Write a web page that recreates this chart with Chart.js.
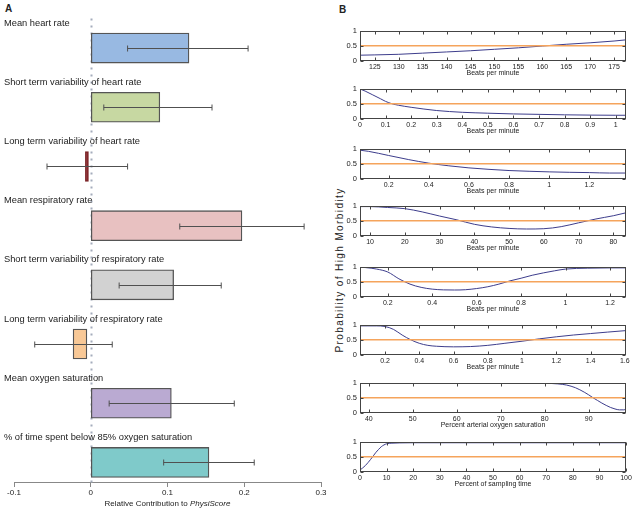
<!DOCTYPE html>
<html><head><meta charset="utf-8">
<script src="https://cdn.jsdelivr.net/npm/chart.js@4.4.1/dist/chart.umd.min.js"></script>
<style>
body{margin:0;background:#fff;width:635px;height:512px;position:relative;overflow:hidden;font-family:"Liberation Sans",Arial,sans-serif;color:#222}
canvas{position:absolute}
.pl{position:absolute;font-weight:bold;font-size:10px}
#ylab{position:absolute;left:339px;top:270px;transform:translate(-50%,-50%) rotate(-90deg);white-space:nowrap;font-size:10px;letter-spacing:1.4px}
</style></head><body>
<div class="pl" style="left:5px;top:3px">A</div>
<div class="pl" style="left:339px;top:4px">B</div>
<div id="ylab">Probability of High Morbidity</div>
<canvas id="cA" width="330" height="512" style="left:0;top:0"></canvas>
<script>
// ---------- Panel A data ----------
const categories = ["Mean heart rate","Short term variability of heart rate","Long term variability of heart rate","Mean respiratory rate","Short term variability of respiratory rate","Long term variability of respiratory rate","Mean oxygen saturation","% of time spent below 85% oxygen saturation"];
const barStart = [0, 0, -0.003, 0, 0, -0.005, 0, 0];
const barEnd   = [0.128, 0.090, -0.007, 0.197, 0.108, -0.023, 0.105, 0.154];
const errLow   = [0.048, 0.017, -0.057, 0.116, 0.037, -0.073, 0.024, 0.095];
const errHigh  = [0.205, 0.158, 0.048, 0.278, 0.170, 0.028, 0.187, 0.213];
const xTicksA  = [-0.1, 0, 0.1, 0.2, 0.3];
const barColors = ['#98b9e2','#c7d8a2','#8c2a2e','#e8c1c1','#d2d2d2','#f8c896','#baaad2','#7fcaca'];
const barBorders = ['#555','#555','#7a2428','#555','#555','#555','#555','#555'];

// ---------- Panel B data ----------
const threshold = 0.5;
const s1X = [121.9,125,130,135,140,145,150,155,160,165,170,175,177.5];
const s1Y = [0.18,0.19,0.21,0.25,0.29,0.33,0.38,0.43,0.49,0.55,0.60,0.66,0.70];
const s2X = [0,0.02,0.05,0.08,0.1,0.125,0.15,0.2,0.25,0.3,0.4,0.5,0.6,0.7,0.8,0.9,1.0,1.04];
const s2Y = [1.0,0.93,0.80,0.67,0.58,0.50,0.45,0.38,0.32,0.27,0.21,0.18,0.155,0.14,0.125,0.115,0.11,0.11];
const s3X = [0.057,0.1,0.2,0.3,0.4,0.5,0.6,0.7,0.8,0.9,1.0,1.1,1.2,1.3,1.383];
const s3Y = [0.96,0.92,0.78,0.64,0.52,0.43,0.36,0.31,0.27,0.245,0.225,0.21,0.2,0.185,0.185];
const s4X = [7.1,10,15,20,25,30,35,40,45,50,55,60,65,70,75,80,83.65];
const s4Y = [0.98,0.98,0.95,0.91,0.80,0.66,0.53,0.38,0.29,0.24,0.22,0.23,0.30,0.43,0.56,0.67,0.77];
const s5X = [0.075,0.1,0.15,0.2,0.25,0.3,0.35,0.4,0.45,0.5,0.55,0.6,0.65,0.7,0.75,0.8,0.85,0.9,0.95,1.0,1.1,1.2,1.272];
const s5Y = [0.99,0.98,0.93,0.83,0.60,0.42,0.31,0.25,0.225,0.22,0.23,0.27,0.33,0.42,0.53,0.62,0.72,0.80,0.87,0.93,0.96,0.97,0.97];
const s6X = [0.054,0.1,0.15,0.2,0.25,0.3,0.35,0.4,0.45,0.5,0.6,0.7,0.8,0.9,1.0,1.1,1.2,1.3,1.4,1.5,1.607];
const s6Y = [0.97,0.97,0.97,0.95,0.85,0.66,0.50,0.38,0.31,0.28,0.26,0.27,0.31,0.38,0.45,0.53,0.60,0.66,0.71,0.76,0.81];
const s7X = [38,45,50,60,70,80,83,85,87,89,90,91,92,93,94,95,96,97,98,98.5];
const s7Y = [1,1,1,1,1,0.99,0.97,0.93,0.84,0.69,0.60,0.50,0.41,0.32,0.24,0.17,0.12,0.09,0.09,0.11];
const s8X = [0,1,2,3,4,5,6,7,8,9,10,12,15,20,30,40,50,60,70,80,90,100];
const s8Y = [0.05,0.12,0.20,0.30,0.41,0.53,0.65,0.75,0.84,0.90,0.94,0.96,0.97,0.975,0.975,0.975,0.975,0.975,0.975,0.975,0.975,0.975];
const bLabels = ['Beats per minute','Beats per minute','Beats per minute','Beats per minute','Beats per minute','Beats per minute','Percent arterial oxygen saturation','Percent of sampling time'];

Chart.defaults.font.family = '"Liberation Sans", Arial, sans-serif';
Chart.defaults.color = '#222';
Chart.defaults.animation = false;

const FONT = '"Liberation Sans", Arial, sans-serif';
const axisAt = 7.346; // category position where the x axis sits
const fmt = v => String(Math.round(v*1e6)/1e6);

const zeroLine = {id:'zeroLine', beforeDatasetsDraw(c){
  const {ctx, chartArea:a, scales:{x,y}} = c;
  const x0 = Math.round(x.getPixelForValue(0)) + 0.5;
  ctx.save(); ctx.strokeStyle='#a4acbc'; ctx.lineWidth=2; ctx.setLineDash([2,5]);
  ctx.beginPath(); ctx.moveTo(x0, a.top); ctx.lineTo(x0, y.getPixelForValue(axisAt)); ctx.stroke(); ctx.restore();
}};
const errorBars = {id:'errorBars', afterDatasetsDraw(c){
  const {ctx, scales:{x,y}} = c;
  ctx.save(); ctx.strokeStyle='#505050'; ctx.lineWidth=1;
  categories.forEach((_,i)=>{
    const py = Math.round(y.getPixelForValue(i)) + 0.5;
    const x1 = x.getPixelForValue(errLow[i]), x2 = x.getPixelForValue(errHigh[i]);
    ctx.beginPath(); ctx.moveTo(x1,py); ctx.lineTo(x2,py);
    ctx.moveTo(x1,py-3); ctx.lineTo(x1,py+3); ctx.moveTo(x2,py-3); ctx.lineTo(x2,py+3); ctx.stroke();
  });
  ctx.restore();
}};
const catLabels = {id:'catLabels', afterDraw(c){
  const {ctx, scales:{y}} = c;
  ctx.save(); ctx.fillStyle='#222'; ctx.font='9.3px '+FONT; ctx.textBaseline='middle'; ctx.textAlign='left';
  categories.forEach((t,i)=>ctx.fillText(t, 4, y.getPixelForValue(i)-25));
  ctx.restore();
}};
const axisTitleA = {id:'axisTitleA', afterDraw(c){
  const {ctx, scales:{x,y}} = c;
  const cy = y.getPixelForValue(axisAt) + 21, cx = (x.left + x.right)/2;
  const p1 = 'Relative Contribution to ', p2 = 'PhysiScore';
  ctx.save(); ctx.fillStyle='#222'; ctx.textBaseline='middle'; ctx.textAlign='left';
  ctx.font = '8px '+FONT; const w1 = ctx.measureText(p1).width;
  ctx.font = 'italic 8px '+FONT; const w2 = ctx.measureText(p2).width;
  const sx = cx - (w1+w2)/2;
  ctx.font = '8px '+FONT; ctx.fillText(p1, sx, cy);
  ctx.font = 'italic 8px '+FONT; ctx.fillText(p2, sx+w1, cy);
  ctx.restore();
}};

new Chart(document.getElementById('cA'), {
  type:'bar',
  data:{labels:categories, datasets:[{
    data: barStart.map((s,i)=>[s, barEnd[i]]),
    backgroundColor: barColors, borderColor: barBorders, borderWidth: 1.3,
    borderSkipped: false, barThickness: 30
  }]},
  options:{
    indexAxis:'y', responsive:false, animation:false,
    layout:{padding:{left:14, right:9, top:18.5, bottom:20}},
    plugins:{legend:{display:false}, tooltip:{enabled:false}},
    scales:{
      y:{type:'category', display:false, offset:true},
      x:{type:'linear', min:xTicksA[0], max:xTicksA[xTicksA.length-1], position:{y:axisAt},
         afterBuildTicks(s){ s.ticks = xTicksA.map(v=>({value:v})); },
         ticks:{font:{size:8}, color:'#222', padding:1, callback:fmt},
         grid:{drawOnChartArea:false, color:'#888', tickLength:4},
         border:{color:'#888'},
         afterFit(s){ s.paddingLeft=0; s.paddingRight=0; }}
    }
  },
  plugins:[zeroLine, errorBars, catLabels, axisTitleA]
});

// ---------- Panel B ----------
const boxPlugin = {id:'box', afterDraw(c){
  const {ctx, chartArea:a, scales:{x,y}} = c;
  ctx.save(); ctx.strokeStyle='#444'; ctx.lineWidth=1;
  const L=Math.round(a.left)+0.5, R=Math.round(a.right)-0.5, T=Math.round(a.top)+0.5, B=Math.round(a.bottom)-0.5;
  ctx.strokeRect(L, T, R-L, B-T);
  ctx.beginPath();
  x.ticks.forEach(t=>{ const px=Math.round(x.getPixelForValue(t.value))+0.5; ctx.moveTo(px,T); ctx.lineTo(px,T+3); ctx.moveTo(px,B); ctx.lineTo(px,B-3); });
  y.ticks.forEach(t=>{ const py=Math.round(y.getPixelForValue(t.value))+0.5; ctx.moveTo(L,py); ctx.lineTo(L+3,py); ctx.moveTo(R,py); ctx.lineTo(R-3,py); });
  ctx.stroke(); ctx.restore();
}};

const panels = [
  {x:s1X, y:s1Y, min:121.9, max:177.5, step:5,   top:30.5},
  {x:s2X, y:s2Y, min:0,     max:1.04,  step:0.1, top:88.5},
  {x:s3X, y:s3Y, min:0.057, max:1.383, step:0.2, top:148.5},
  {x:s4X, y:s4Y, min:7.1,   max:83.65, step:10,  top:205.5},
  {x:s5X, y:s5Y, min:0.075, max:1.272, step:0.2, top:267},
  {x:s6X, y:s6Y, min:0.054, max:1.607, step:0.2, top:324.5},
  {x:s7X, y:s7Y, min:38,    max:98.5,  step:10,  top:383},
  {x:s8X, y:s8Y, min:0,     max:100,   step:10,  top:442}
];
panels.forEach((p,k)=>{
  const cv = document.createElement('canvas');
  cv.width = 305; cv.height = 52;
  cv.style.left = '330px'; cv.style.top = (p.top-6)+'px';
  document.body.appendChild(cv);
  new Chart(cv, {
    type:'line',
    data:{datasets:[
      {data:[{x:p.min,y:threshold},{x:p.max,y:threshold}], borderColor:'#f5a45c', borderWidth:1.5, pointRadius:0},
      {data:p.x.map((v,i)=>({x:v,y:p.y[i]})), borderColor:'#3d3d8c', borderWidth:1, pointRadius:0, cubicInterpolationMode:'monotone'}
    ]},
    options:{
      responsive:false, animation:false,
      layout:{padding:{top:6, right:9, left:0, bottom:0}},
      plugins:{legend:{display:false}, tooltip:{enabled:false}},
      scales:{
        x:{type:'linear', min:p.min, max:p.max,
           ticks:{stepSize:p.step, includeBounds:false, autoSkip:false, maxRotation:0, font:{size:7}, padding:2, color:'#222', callback:fmt},
           grid:{display:false, drawTicks:false}, border:{display:false},
           title:{display:true, text:bLabels[k], font:{size:7, lineHeight:1}, padding:0, color:'#222'},
           afterFit(s){ s.height=16.5; s.paddingLeft=0; s.paddingRight=0; }},
        y:{type:'linear', min:0, max:1,
           ticks:{stepSize:0.5, font:{size:7.5}, padding:3, color:'#222', callback:fmt},
           grid:{display:false, drawTicks:false}, border:{display:false},
           afterFit(s){ s.width=30; s.paddingTop=0; s.paddingBottom=0; }}
      }
    },
    plugins:[boxPlugin]
  });
});
</script>
</body></html>
